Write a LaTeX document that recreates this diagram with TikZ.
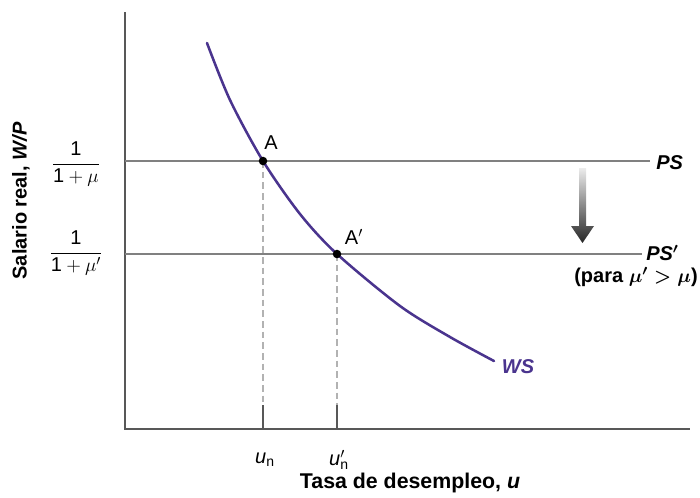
\documentclass[tikz,border=0pt]{standalone}
\usepackage{fontspec}
\setmainfont{Liberation Sans}
\usepackage{amsmath}
\usetikzlibrary{calc}
\definecolor{wscolor}{RGB}{74,52,142}
\definecolor{pscolor}{RGB}{128,128,128}
\definecolor{axiscolor}{RGB}{88,88,88}
\tikzstyle{axis} = [color=axiscolor,line width=1.4pt]
\tikzstyle{psline} = [color=pscolor,line width=2pt]
\tikzstyle{guide} = [color=gray!60,dash pattern=on 5pt off 3pt,line width=0.8pt]
\tikzstyle{lbl} = [font=\fontsize{15}{18}\selectfont,inner sep=0.75pt]
\begin{document}
\begin{tikzpicture}[x=0.75pt,y=0.75pt,yscale=-1,xscale=1]
\useasboundingbox (0,0) rectangle (700,497);

% Axes
\coordinate (top) at (125,12);
\coordinate (origin) at (125,429);
\coordinate (right) at (690,429);
\draw [axis] (top) -- (origin) -- (right) ;

%Straight Lines PS and PS'
\coordinate (ps0) at (125,161);
\coordinate (ps1) at (650,161);
\coordinate (psp0) at (125,254);
\coordinate (psp1) at (642,254);
\draw [psline] (ps0) -- (ps1) ;
\draw [psline] (psp0) -- (psp1) ;

%Curve Lines WS
\draw [color=wscolor,line width=1.9pt,line cap=round] plot [smooth] coordinates {(207,43) (230,100) (263,161) (300,214) (337,254) (400,306) (450,337) (494,361)} ;

%Points A and A'
\coordinate (A) at (263,161);
\coordinate (Ap) at (337,254);
\coordinate (tick) at (0,405);
\draw [guide] (A) -- (A |- tick) ;
\draw [guide] (Ap) -- (Ap |- tick) ;
\draw [color=axiscolor,line width=0.8pt] (A |- tick) -- (A |- origin) ;
\draw [color=axiscolor,line width=0.8pt] (Ap |- tick) -- (Ap |- origin) ;
\fill (A) circle [radius=3.2pt] ;
\fill (Ap) circle [radius=3.2pt] ;

%Shape: shaded arrow
\shade [top color=gray!15,bottom color=black!85] (579,168) -- (586,168) -- (586,226) -- (594,226) -- (582.5,243) -- (571,226) -- (579,226) -- cycle ;

% Text Node
\node [lbl] (lblA) at (271,143) {A};
% Text Node
\node [lbl] (lblAp) at (354,237) {A$'$};
% Text Node
\node [lbl,anchor=west] (lblPS) at (655,163) {\textbf{\textit{PS}}};
% Text Node
\node [lbl,anchor=west] (lblPSp) at (645,253) {\textbf{\textit{PS}}$\boldsymbol{'}$};
% Text Node
\node [lbl,anchor=east] (lblCond) at (699,277) {\textbf{(para $\boldsymbol{\mu' > \mu}$)}};
% Text Node
\node [lbl,text=wscolor] (lblWS) at (518,367) {\textbf{\textit{WS}}};
% Text Node
\node [lbl] (lblFrac) at (76,164) {$\dfrac{\mathrm{1}}{\mathrm{1}+\mu}$};
% Text Node
\node [lbl] (lblFracp) at (76,253) {$\dfrac{\mathrm{1}}{\mathrm{1}+\mu'}$};
% Text Node
\node [lbl] (lblun) at (265,460) {\textit{u}$_{\mathrm{n}}$};
% Text Node
\node [lbl] (lblunp) at (339,460) {\textit{u}$'_{\mathrm{n}}$};
% Text Node
\node [lbl,font=\fontsize{16}{19}\selectfont] (lblX) at (410,483) {\textbf{Tasa de desempleo, \textit{u}}};
% Text Node
\node [lbl,rotate=90] (lblY) at (21,201) {\textbf{Salario real, \textit{W/P}}};

\end{tikzpicture}
\end{document}
